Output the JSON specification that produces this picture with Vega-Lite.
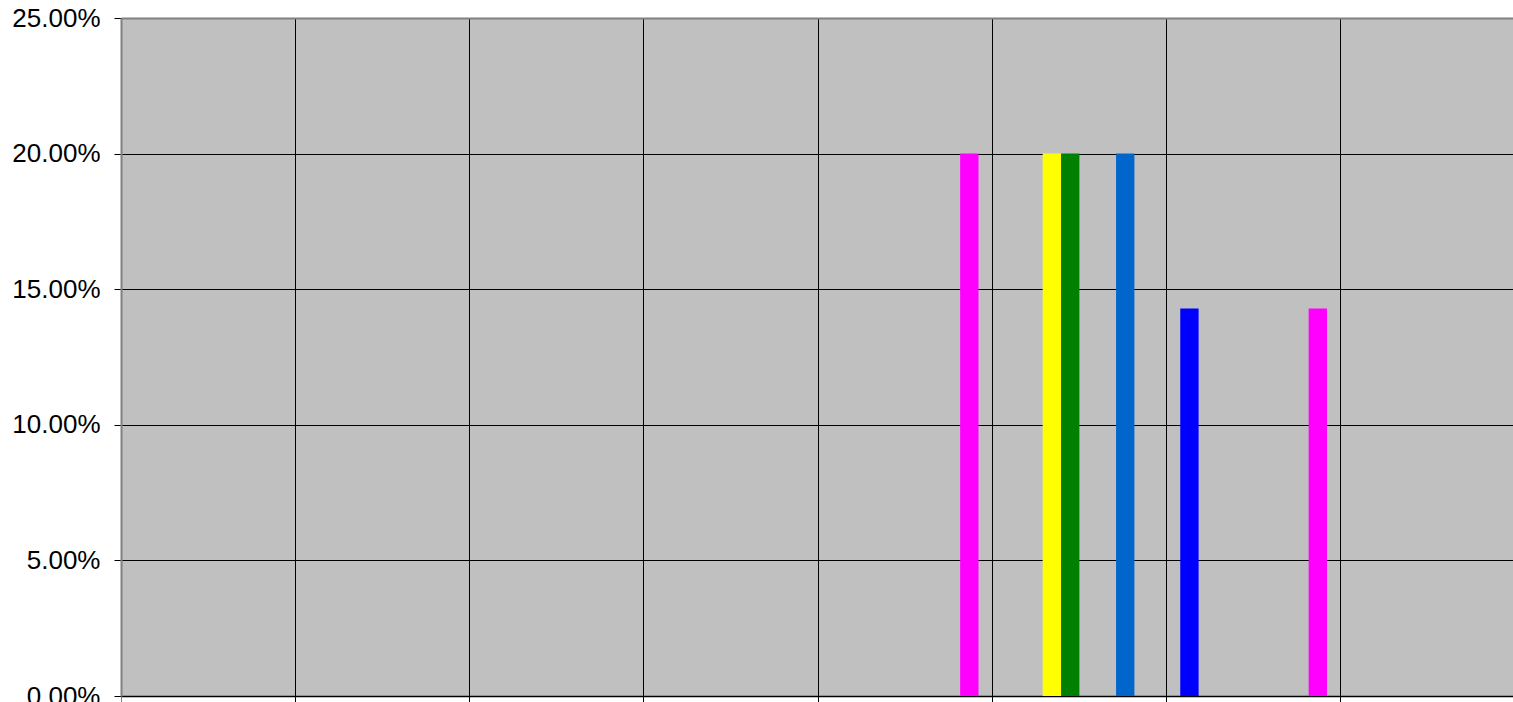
{
  "$schema": "https://vega.github.io/schema/vega-lite/v6.json",
  "width": 1392,
  "height": 678,
  "autosize": {"type": "none"},
  "padding": {"left": 121, "top": 18, "right": 0, "bottom": 6},
  "background": "#FFFFFF",
  "config": {
    "view": {"fill": "#C0C0C0", "stroke": null},
    "axis": {"labelFont": "Liberation Sans", "labelColor": "#000000"}
  },
  "data": {
    "values": [
      {"cat": "5", "series": "s8", "value": 0.2},
      {"cat": "6", "series": "s3", "value": 0.2},
      {"cat": "6", "series": "s4", "value": 0.2},
      {"cat": "6", "series": "s7", "value": 0.2},
      {"cat": "7", "series": "s1", "value": 0.142857},
      {"cat": "7", "series": "s8", "value": 0.142857}
    ]
  },
  "mark": {"type": "bar"},
  "encoding": {
    "x": {
      "field": "cat",
      "type": "nominal",
      "scale": {"domain": ["1", "2", "3", "4", "5", "6", "7", "8"], "paddingInner": 0, "paddingOuter": 0, "range": [0, 1394]},
      "axis": {
        "title": null,
        "labels": false,
        "bandPosition": 0,
        "grid": true,
        "gridColor": {"condition": {"test": "datum.value === '1'", "value": "transparent"}, "value": "#000000"},
        "gridWidth": 1,
        "gridOpacity": 1,
        "ticks": true,
        "tickSize": 6,
        "tickColor": {"condition": {"test": "datum.value === '1'", "value": "#808080"}, "value": "#000000"},
        "tickWidth": 1,
        "domain": true,
        "domainColor": "#000000",
        "domainWidth": 1.5
      }
    },
    "xOffset": {
      "field": "series",
      "type": "nominal",
      "scale": {"domain": ["s1", "s2", "s3", "s4", "s5", "s6", "s7", "s8"], "paddingInner": 0, "paddingOuter": 0.75}
    },
    "y": {
      "field": "value",
      "type": "quantitative",
      "scale": {"domain": [0, 0.25], "nice": false, "zero": true},
      "axis": {
        "title": null,
        "values": [0, 0.05, 0.1, 0.15, 0.2, 0.25],
        "format": ".2%",
        "labelFontSize": 26,
        "labelPadding": 14,
        "labelBound": false,
        "labelFlush": false,
        "labelOverlap": false,
        "grid": true,
        "gridColor": {"condition": {"test": "datum.value >= 0.25", "value": "#808080"}, "value": "#000000"},
        "gridWidth": {"condition": {"test": "datum.value >= 0.25", "value": 2}, "value": 1},
        "gridOpacity": 1,
        "tickSize": 7,
        "tickColor": "#000000",
        "tickWidth": 1,
        "domain": true,
        "domainColor": "#808080",
        "domainWidth": 2
      }
    },
    "color": {
      "field": "series",
      "type": "nominal",
      "scale": {"domain": ["s1", "s3", "s4", "s7", "s8"], "range": ["#0000FF", "#FFFF00", "#008000", "#0066CC", "#FF00FF"]},
      "legend": null
    }
  }
}
